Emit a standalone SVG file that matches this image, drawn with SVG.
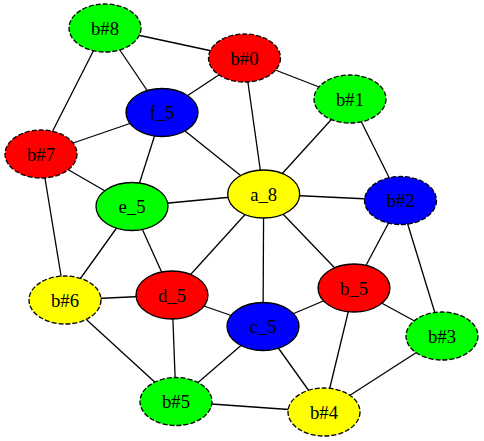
<svg xmlns="http://www.w3.org/2000/svg" width="484" height="441" viewBox="0 0 484 441">
<style>
.e line{stroke:#000;stroke-width:1.3}
ellipse{stroke:#000;stroke-width:1.3;rx:36px;ry:24px}
.d ellipse{stroke-dasharray:5,2}
text{font-family:"Liberation Serif","Times New Roman",serif;font-size:18.7px;text-anchor:middle;fill:#000}
</style>
<rect width="484" height="441" fill="#fff"/>
<g class="e">
<line x1="105" y1="28" x2="244.5" y2="58"/>
<line x1="105" y1="28" x2="162" y2="112.5"/>
<line x1="105" y1="28" x2="41" y2="154"/>
<line x1="244.5" y1="58" x2="162" y2="112.5"/>
<line x1="244.5" y1="58" x2="350" y2="99"/>
<line x1="244.5" y1="58" x2="263.7" y2="194"/>
<line x1="350" y1="99" x2="263.7" y2="194"/>
<line x1="350" y1="99" x2="400.5" y2="200.5"/>
<line x1="162" y1="112.5" x2="41" y2="154"/>
<line x1="162" y1="112.5" x2="132" y2="206.5"/>
<line x1="162" y1="112.5" x2="263.7" y2="194"/>
<line x1="41" y1="154" x2="132" y2="206.5"/>
<line x1="41" y1="154" x2="65" y2="300"/>
<line x1="263.7" y1="194" x2="400.5" y2="200.5"/>
<line x1="263.7" y1="194" x2="132" y2="206.5"/>
<line x1="263.7" y1="194" x2="172" y2="295"/>
<line x1="263.7" y1="194" x2="263" y2="326.5"/>
<line x1="263.7" y1="194" x2="354" y2="288"/>
<line x1="400.5" y1="200.5" x2="354" y2="288"/>
<line x1="400.5" y1="200.5" x2="442" y2="336"/>
<line x1="132" y1="206.5" x2="65" y2="300"/>
<line x1="132" y1="206.5" x2="172" y2="295"/>
<line x1="65" y1="300" x2="172" y2="295"/>
<line x1="65" y1="300" x2="176" y2="401.5"/>
<line x1="172" y1="295" x2="176" y2="401.5"/>
<line x1="172" y1="295" x2="263" y2="326.5"/>
<line x1="263" y1="326.5" x2="354" y2="288"/>
<line x1="263" y1="326.5" x2="176" y2="401.5"/>
<line x1="263" y1="326.5" x2="324" y2="412"/>
<line x1="354" y1="288" x2="442" y2="336"/>
<line x1="354" y1="288" x2="324" y2="412"/>
<line x1="442" y1="336" x2="324" y2="412"/>
<line x1="176" y1="401.5" x2="324" y2="412"/>
</g>
<g id="b8" class="d"><ellipse cx="105" cy="28" fill="#00ff00"/><text x="105" y="34.5">b#8</text></g>
<g id="b0" class="d"><ellipse cx="244.5" cy="58" fill="#ff0000"/><text x="244.5" y="64.5">b#0</text></g>
<g id="b1" class="d"><ellipse cx="350" cy="99" fill="#00ff00"/><text x="350" y="105.5">b#1</text></g>
<g id="f5"><ellipse cx="162" cy="112.5" fill="#0000ff"/><text x="162" y="119">f_5</text></g>
<g id="b7" class="d"><ellipse cx="41" cy="154" fill="#ff0000"/><text x="41" y="160.5">b#7</text></g>
<g id="a8"><ellipse cx="263.7" cy="194" fill="#ffff00"/><text x="263.7" y="200.5">a_8</text></g>
<g id="b2" class="d"><ellipse cx="400.5" cy="200.5" fill="#0000ff"/><text x="400.5" y="207">b#2</text></g>
<g id="e5"><ellipse cx="132" cy="206.5" fill="#00ff00"/><text x="132" y="213">e_5</text></g>
<g id="b6" class="d"><ellipse cx="65" cy="300" fill="#ffff00"/><text x="65" y="306.5">b#6</text></g>
<g id="d5"><ellipse cx="172" cy="295" fill="#ff0000"/><text x="172" y="301.5">d_5</text></g>
<g id="b_5"><ellipse cx="354" cy="288" fill="#ff0000"/><text x="354" y="294.5">b_5</text></g>
<g id="c5"><ellipse cx="263" cy="326.5" fill="#0000ff"/><text x="263" y="333">c_5</text></g>
<g id="b3" class="d"><ellipse cx="442" cy="336" fill="#00ff00"/><text x="442" y="342.5">b#3</text></g>
<g id="b5" class="d"><ellipse cx="176" cy="401.5" fill="#00ff00"/><text x="176" y="408">b#5</text></g>
<g id="b4" class="d"><ellipse cx="324" cy="412" fill="#ffff00"/><text x="324" y="418.5">b#4</text></g>
</svg>
